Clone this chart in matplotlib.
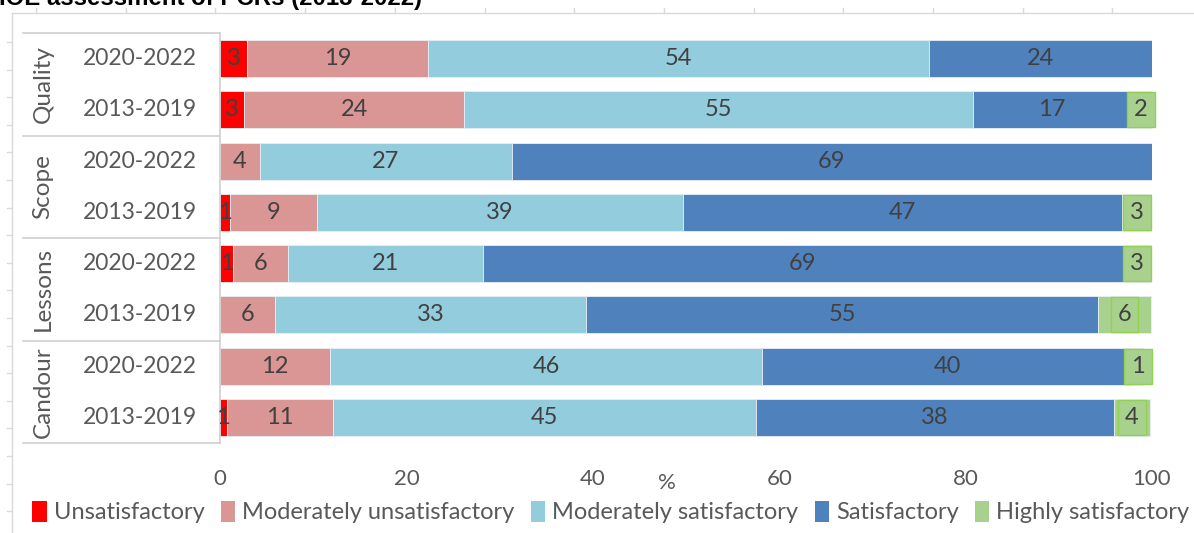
import matplotlib.pyplot as plt
from matplotlib.patches import Patch

plt.rcParams['font.family'] = ['Lato', 'DejaVu Sans']

groups = ['Quality', 'Scope', 'Lessons', 'Candour']
periods = ['2020-2022', '2013-2019'] * 4
unsat = [2.9, 2.6, 0, 1.1, 1.4, 0, 0, 0.7]
mod_unsat = [19.4, 23.6, 4.3, 9.3, 5.9, 5.9, 11.8, 11.4]
mod_sat = [53.8, 54.6, 27.0, 39.3, 20.9, 33.4, 46.4, 45.4]
sat = [23.9, 16.8, 68.7, 47.1, 68.7, 54.9, 39.7, 38.4]
high = [0, 2.4, 0, 3.2, 3.0, 5.7, 1.1, 3.9]
series_names = ['Unsatisfactory', 'Moderately unsatisfactory', 'Moderately satisfactory',
                'Satisfactory', 'Highly satisfactory']
colors = ['#FF0000', '#DA9694', '#93CDDD', '#4F81BD', '#A9D18E']
xticks = [0, 20, 40, 60, 80, 100]

W, H = 1194, 533
fig = plt.figure(figsize=(W / 100, H / 100), dpi=100)

# faint outer frame of the original chart (cropped)
bg = fig.add_axes([0, 0, 1, 1])
bg.set_xlim(0, W)
bg.set_ylim(H, 0)
bg.axis('off')
frame_c = '#d9d9d9'
bg.plot([12, W], [13, 13], color=frame_c, lw=1)
bg.plot([12, 12], [13, H], color=frame_c, lw=1)
for k in range(13):
    x = 36 + 89.7 * k
    bg.plot([x, x], [8, 13], color=frame_c, lw=1)
for k in range(18):
    y = 42 + 27.6 * k
    bg.plot([7, 12], [y, y], color=frame_c, lw=1)

fig.text(-0.001, 1 - 5.5 / H, 'IOE assessment of PCRs (2013-2022)', fontsize=17.3,
         fontweight='bold', family='Liberation Sans', va='baseline', ha='left')

ax = fig.add_axes([220 / W, 1 - 443 / H, 932 / W, 410 / H])
ax.set_xlim(0, 100)
ax.set_ylim(7.5, -0.5)
for s in ax.spines.values():
    s.set_visible(False)

ypos = list(range(len(periods)))
left = [0] * len(periods)
all_series = [unsat, mod_unsat, mod_sat, sat, high]
for si, (vals, col) in enumerate(zip(all_series, colors)):
    ax.barh(ypos, vals, left=left, height=0.72, color=col, edgecolor='#e8eef5', linewidth=0.6)
    for y, v, l in zip(ypos, vals, left):
        if v <= 0:
            continue
        if si == 4:
            ax.text(l + v / 2, y, f'{v:.0f}', ha='center', va='center', fontsize=17,
                    color='#404040', clip_on=False,
                    bbox=dict(boxstyle='square,pad=0.3', facecolor='#A9D18E',
                              edgecolor='#92D050', linewidth=1.0))
        else:
            ax.text(l + v / 2, y, f'{v:.0f}', ha='center', va='center', fontsize=17,
                    color='#404040')
    left = [a + b for a, b in zip(left, vals)]

ax.set_yticks([])
ax.set_xticks(xticks)
ax.set_xticklabels([str(t) for t in xticks], fontsize=16, color='#595959')
ax.tick_params(axis='x', length=0, pad=19)
ax.text(48, 8.28, '%', fontsize=16, color='#595959', ha='center', va='center')

# category box on the left
box_c = '#d0d0d0'
x0 = (23 - 220) / 932
for yb in [-0.5, 1.5, 3.5, 5.5, 7.5]:
    ax.plot([x0, 0], [yb, yb], color=box_c, lw=1.2, clip_on=False,
            transform=ax.get_yaxis_transform())
ax.plot([0, 0], [-0.5, 7.5], color=box_c, lw=1.2, clip_on=False)
for y, p in zip(ypos, periods):
    ax.text((140 - 220) / 932, y, p, transform=ax.get_yaxis_transform(), fontsize=16.5,
            color='#595959', ha='center', va='center')
for gi, g in enumerate(groups):
    ax.text((43 - 220) / 932, gi * 2 + 0.5, g, transform=ax.get_yaxis_transform(),
            fontsize=17.5, color='#595959', ha='center', va='center', rotation=90)

handles = [Patch(facecolor=c, label=n) for c, n in zip(colors, series_names)]
fig.legend(handles=handles, loc='center', bbox_to_anchor=(611 / W, 1 - 512 / H), ncol=5,
           frameon=False, fontsize=17, handlelength=0.6, handleheight=1.0,
           handletextpad=0.3, columnspacing=0.7, labelcolor='#595959', borderaxespad=0)

fig.savefig('out.png', dpi=100)
